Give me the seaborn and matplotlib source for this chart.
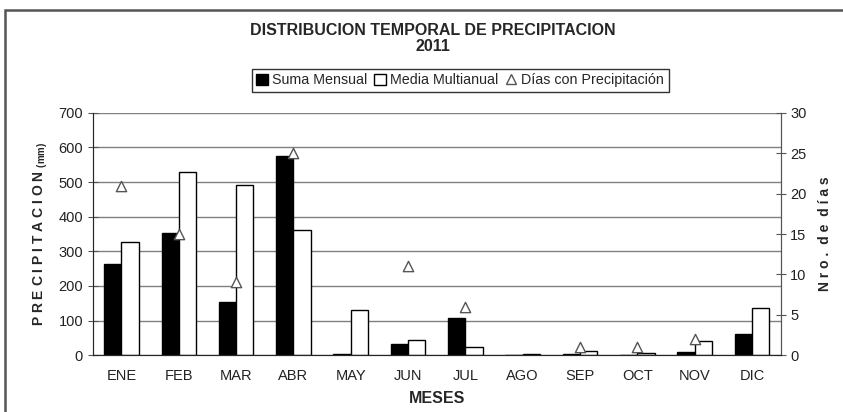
import matplotlib.pyplot as plt
import matplotlib.patches as mpatches
from matplotlib.lines import Line2D
from matplotlib.ticker import FixedLocator
import numpy as np
import pandas as pd
import seaborn as sns

meses = ['ENE', 'FEB', 'MAR', 'ABR', 'MAY', 'JUN', 'JUL', 'AGO', 'SEP', 'OCT', 'NOV', 'DIC']
suma_mensual = [262, 352, 154, 574, 2, 32, 106, 0, 3, 1, 9, 60]
media_multianual = [326, 530, 492, 362, 130, 45, 24, 3, 12, 6, 41, 137]
dias_precip = [21, 15, 9, 25, np.nan, 11, 6, np.nan, 1, 1, 2, np.nan]

sns.set_style('white')
plt.rcParams['font.family'] = ['Liberation Sans', 'DejaVu Sans']

df = pd.DataFrame({'mes': meses * 2,
                   'mm': suma_mensual + media_multianual,
                   'serie': ['Suma Mensual'] * 12 + ['Media Multianual'] * 12})
dias = pd.DataFrame({'mes': meses, 'dias': dias_precip})

fig = plt.figure(figsize=(8.43, 4.12), dpi=100)
ax = fig.add_axes([0.110, 0.138, 0.816, 0.588])

sns.barplot(data=df, x='mes', y='mm', hue='serie', palette=['black', 'white'],
            edgecolor='black', linewidth=1, width=0.6, gap=0, legend=False, ax=ax)
ax.set_ylim(0, 700)
ax.set_yticks(range(0, 701, 100))
ax.yaxis.grid(True, color='#808080', linewidth=1)
ax.set_axisbelow(True)
ax.set_xlim(-0.5, 11.5)
ax.tick_params(axis='x', which='major', length=0, labelsize=10.5, pad=10, labelcolor='#222222')
ax.xaxis.set_minor_locator(FixedLocator(np.arange(0.5, 11, 1)))
ax.tick_params(axis='x', which='minor', length=8, direction='inout', color='#555555')
ax.tick_params(axis='y', length=7, direction='inout', labelsize=10.5, color='#555555',
               labelcolor='#222222')
for s in ['left', 'bottom', 'right']:
    ax.spines[s].set_color('#555555')
ax.spines['top'].set_visible(False)
ax.set_xlabel('MESES', fontsize=11.5, fontweight='bold', labelpad=6)
ax.set_ylabel('P R E C I P I T A C I O N $_{\\mathregular{(mm)}}$', fontsize=10, fontweight='bold', labelpad=6)

ax2 = ax.twinx()
sns.scatterplot(data=dias, x='mes', y='dias', marker='^', s=55, facecolor='white',
                edgecolor='#555555', linewidth=1, ax=ax2, zorder=5)
ax2.set_ylim(0, 30)
ax2.set_yticks(range(0, 31, 5))
ax2.tick_params(axis='y', length=7, direction='inout', labelsize=10.5, color='#555555',
                labelcolor='#222222')
ax2.spines['top'].set_visible(False)
ax2.spines['right'].set_color('#555555')
ax2.set_ylabel('N r o .  d e  d í a s', fontsize=10, fontweight='bold', rotation=90, labelpad=8)
ax2.set_xlabel('')

fig.text(0.514, 0.927, 'DISTRIBUCION TEMPORAL DE PRECIPITACION', ha='center', va='center',
         fontsize=11.5, fontweight='bold')
fig.text(0.514, 0.886, '2011', ha='center', va='center', fontsize=11.5, fontweight='bold')

handles = [mpatches.Patch(facecolor='black', edgecolor='black'),
           mpatches.Patch(facecolor='white', edgecolor='black'),
           Line2D([], [], marker='^', linestyle='', markerfacecolor='white',
                  markeredgecolor='#555555', markersize=7)]
labels = ['Suma Mensual', 'Media Multianual', 'Días con Precipitación']
leg = fig.legend(handles, labels, loc='center', bbox_to_anchor=(0.546, 0.805), ncol=3,
                 frameon=True, fancybox=False, edgecolor='black', fontsize=10.3,
                 handlelength=0.8, handleheight=0.8, handletextpad=0.3, columnspacing=0.5,
                 borderpad=0.3)
leg.get_frame().set_linewidth(1)

fig.patches.append(mpatches.Rectangle((5 / 843, -0.1), 1.2, 1 - 10 / 412 + 0.1,
                                      transform=fig.transFigure, fill=False,
                                      edgecolor='#555555', linewidth=1.8))

fig.savefig('out.png', dpi=100)
